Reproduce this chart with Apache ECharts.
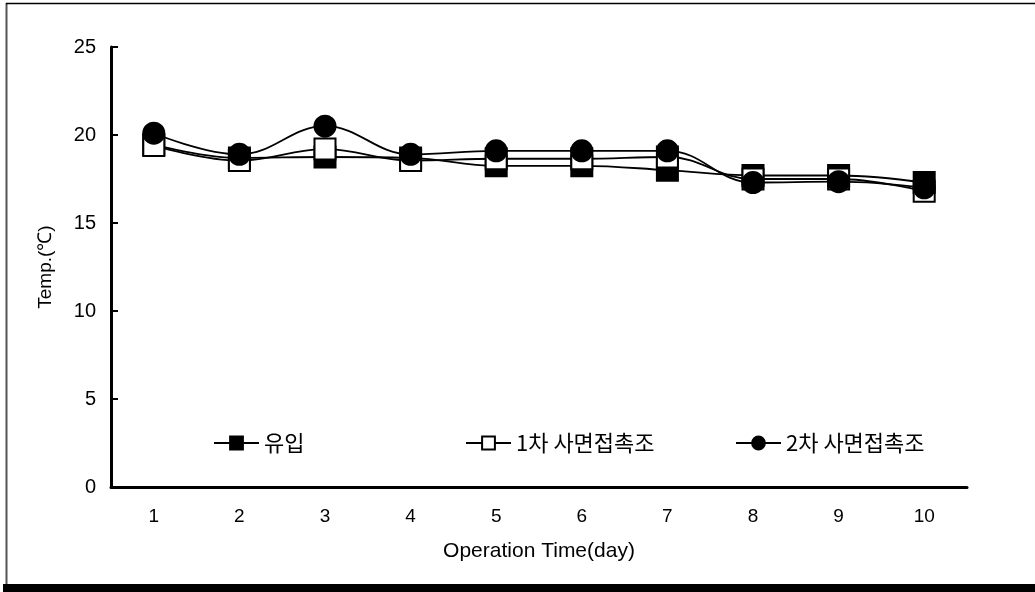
<!DOCTYPE html>
<html>
<head>
<meta charset="utf-8">
<script src="https://cdn.jsdelivr.net/npm/echarts@6/dist/echarts.min.js"></script>
<style>
	html, body { margin: 0; padding: 0; background: #fff; }
	#chart { width: 1035px; height: 592px; }
</style>
</head>
<body>
<div id="chart"></div>
<script>
// values
const days = ['1', '2', '3', '4', '5', '6', '7', '8', '9', '10'];
const inflow = [19.45, 18.7, 18.75, 18.7, 18.25, 18.25, 18.0, 17.7, 17.7, 17.3];
const tank1 = [19.4, 18.55, 19.2, 18.55, 18.65, 18.65, 18.75, 17.5, 17.5, 16.8];
const tank2 = [20.1, 18.9, 20.5, 18.9, 19.1, 19.1, 19.1, 17.3, 17.35, 17.0];
const names = ['유입', '1차 사면접촉조', '2차 사면접촉조'];

const latin = "'Liberation Sans', Arial, sans-serif";
const kr = "'Noto Sans CJK KR', sans-serif";

const chart = echarts.init(document.getElementById('chart'), null, {renderer: 'canvas'});

function legendAt(left, name) {
	return {
		left: left,
		top: 432,
		padding: 0,
		data: [name],
		itemWidth: 45,
		itemHeight: 16,
		itemGap: 5,
		textStyle: {fontFamily: kr, fontSize: 22, color: '#000'},
	};
}

function line(name, data, symbol, fill) {
	return {
		name: name,
		type: 'line',
		data: data,
		smooth: 0.4,
		symbol: symbol,
		symbolSize: 21,
		showAllSymbol: true,
		lineStyle: {color: '#000', width: 1.8},
		itemStyle: {color: fill, borderColor: '#000', borderWidth: 2},
		emphasis: {disabled: true},
	};
}

chart.setOption({
	animation: false,
	backgroundColor: '#fff',
	grid: {left: 111, right: 68, top: 47, bottom: 105},
	legend: [
		legendAt(213, names[0]),
		legendAt(465, names[1]),
		legendAt(735, names[2]),
	],
	xAxis: {
		type: 'category',
		data: days,
		boundaryGap: true,
		name: 'Operation Time(day)',
		nameLocation: 'middle',
		nameGap: 54,
		nameTextStyle: {fontFamily: latin, fontSize: 21, color: '#000'},
		axisLine: {lineStyle: {color: '#000', width: 3}},
		axisTick: {inside: true, length: 8, lineStyle: {color: '#000', width: 2}},
		axisLabel: {fontFamily: latin, fontSize: 19, color: '#000', margin: 20},
	},
	yAxis: {
		type: 'value',
		min: 0,
		max: 25,
		interval: 5,
		name: 'Temp.(℃)',
		nameLocation: 'middle',
		nameGap: 56,
		nameTextStyle: {fontFamily: latin, fontSize: 19, color: '#000'},
		splitLine: {show: false},
		axisLine: {show: true, lineStyle: {color: '#000', width: 3}},
		axisTick: {show: true, inside: true, length: 7, lineStyle: {color: '#000', width: 2}},
		axisLabel: {fontFamily: latin, fontSize: 20, color: '#000', margin: 15},
	},
	series: [
		line(names[0], inflow, 'rect', '#000'),
		line(names[1], tank1, 'rect', '#fff'),
		line(names[2], tank2, 'circle', '#000'),
	],
	graphic: [
		{type: 'line', shape: {x1: 6.5, y1: 3, x2: 6.5, y2: 585}, style: {stroke: '#555', lineWidth: 2}},
		{type: 'line', shape: {x1: 6, y1: 3.5, x2: 1035, y2: 3.5}, style: {stroke: '#000', lineWidth: 1.5}},
		{type: 'rect', shape: {x: 3, y: 584, width: 1032, height: 8}, style: {fill: '#000'}},
	],
});
</script>
</body>
</html>
